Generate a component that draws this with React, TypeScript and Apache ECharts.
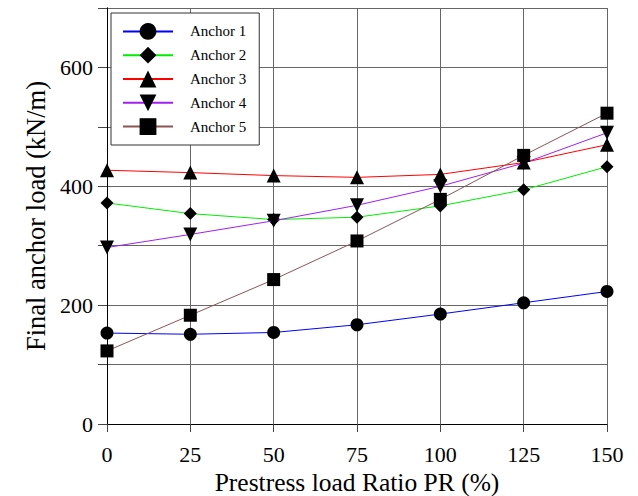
import React, { useEffect, useRef } from "react";
import * as echarts from "echarts";

const prValues = [0, 25, 50, 75, 100, 125, 150];
const anchor1 = [153, 151, 154, 167, 185, 204, 223];
const anchor2 = [372, 354, 344, 348, 367, 394, 433];
const anchor3 = [427, 423, 418, 415, 420, 440, 470];
const anchor4 = [297, 319, 342, 368, 400, 439, 490];
const anchor5 = [123, 183, 243, 308, 378, 452, 523];
const seriesNames = ["Anchor 1", "Anchor 2", "Anchor 3", "Anchor 4", "Anchor 5"];
const lineColors = ["#0000ff", "#00ee00", "#ff0000", "#a020f0", "#8b5555"];

const FONT = "'Liberation Serif', 'Times New Roman', serif";

export default function App() {
  const ref = useRef<HTMLDivElement>(null);
  useEffect(() => {
    document.body.style.margin = "0";
    if (!ref.current) return;
    const chart = echarts.init(ref.current, undefined, { renderer: "svg" });
    const datasets = [anchor1, anchor2, anchor3, anchor4, anchor5];
    const symbols = ["circle", "diamond", "triangle", "triangle", "rect"];
    const rotates = [0, 0, 0, 180, 0];
    const sizes = [13, 13, 14, 14, 13];
    chart.setOption({
      animation: false,
      textStyle: { fontFamily: FONT },
      grid: {
        left: 107,
        right: 31,
        top: 8,
        bottom: 72,
        containLabel: false,
        outerBoundsMode: "none",
      },
      legend: {
        orient: "vertical",
        left: 111,
        top: 13,
        itemWidth: 50,
        itemHeight: 21,
        itemGap: 7,
        padding: [10, 13, 10, 11],
        backgroundColor: "#fff",
        borderColor: "#333",
        borderWidth: 1,
        textStyle: { fontFamily: FONT, fontSize: 15, color: "#000", padding: [0, 0, 0, 12] },
        data: seriesNames,
      },
      xAxis: {
        type: "value",
        min: 0,
        max: 150,
        interval: 25,
        axisLine: { show: true, onZero: false, lineStyle: { color: "#000", width: 1 } },
        axisTick: { show: true, length: 8, lineStyle: { color: "#444" } },
        axisLabel: { color: "#000", fontSize: 22, fontFamily: FONT, margin: 19 },
        splitLine: { show: true, lineStyle: { color: "#666", width: 1 } },
        name: "Prestress load Ratio PR (%)",
        nameLocation: "middle",
        nameGap: 42,
        nameTextStyle: { color: "#000", fontSize: 25.5, lineHeight: 24, fontFamily: FONT },
      },
      yAxis: [
        {
          type: "value",
          min: 0,
          max: 700,
          interval: 100,
          axisLine: { show: true, onZero: false, lineStyle: { color: "#000", width: 1 } },
          axisTick: { show: true, length: 9, lineStyle: { color: "#444" } },
          axisLabel: {
            color: "#000",
            fontSize: 22,
            fontFamily: FONT,
            margin: 14,
            formatter: (v: number) => (v % 200 === 0 ? String(v) : ""),
          },
          splitLine: { show: true, lineStyle: { color: "#666", width: 1 } },
          name: "Final anchor load (kN/m)",
          nameLocation: "middle",
          nameGap: 55,
          nameTextStyle: { color: "#000", fontSize: 26.5, fontFamily: FONT },
        },
        {
          type: "value",
          position: "right",
          min: 0,
          max: 700,
          interval: 100,
          axisLine: { show: true, lineStyle: { color: "#000", width: 1 } },
          axisTick: { show: false },
          axisLabel: { show: false },
          splitLine: { show: false },
        },
      ],
      series: datasets.map((d, i) => ({
        name: seriesNames[i],
        type: "line",
        data: d.map((v, j) => [prValues[j], v]),
        symbol: symbols[i],
        symbolRotate: rotates[i],
        symbolSize: sizes[i],
        showAllSymbol: true,
        itemStyle: { color: "#000" },
        lineStyle: { color: lineColors[i], width: 1 },
        z: 2 + i,
      })),
    });
    return () => chart.dispose();
  }, []);
  return <div ref={ref} style={{ width: 638, height: 496 }} />;
}
